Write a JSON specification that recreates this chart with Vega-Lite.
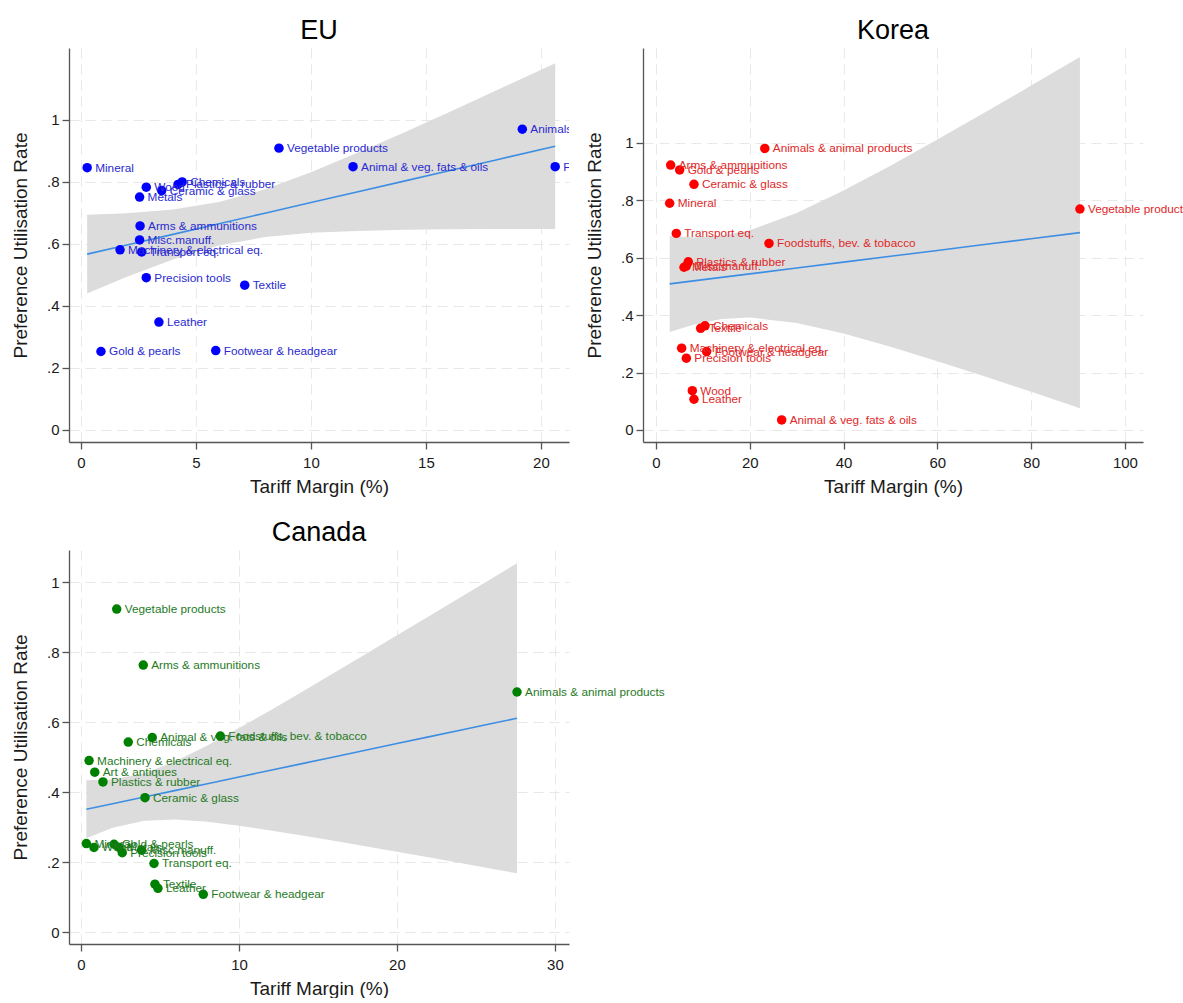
{
  "$schema": "https://vega.github.io/schema/vega-lite/v6.json",
  "padding": {"left": 11, "top": 17, "right": 0, "bottom": 0},
  "background": "white",
  "config": {
    "view": {"stroke": null},
    "font": "Liberation Sans",
    "axis": {
      "labelFont": "Liberation Sans", "titleFont": "Liberation Sans",
      "labelFontSize": 15, "titleFontSize": 19, "titleFontWeight": "normal",
      "labelColor": "#1a1a1a", "titleColor": "#1a1a1a",
      "domainColor": "#555555", "tickColor": "#555555", "domainWidth": 1.3, "tickWidth": 1.3, "tickSize": 7,
      "gridColor": "#e8e8e8", "gridDash": [10, 6], "gridWidth": 1,
      "labelFlush": false, "labelOverlap": false
    },
    "axisX": {"labelPadding": 6, "titlePadding": 7},
    "axisY": {"labelPadding": 3, "titlePadding": 16},
    "title": {"font": "Liberation Sans", "fontSize": 27, "fontWeight": "normal", "color": "#000000", "anchor": "middle", "frame": "group", "baseline": "alphabetic", "offset": 3}
  },
  "datasets": {
    "eu": [
      {"sector": "Mineral", "tm": 0.27, "pur": 0.846},
      {"sector": "Vegetable products", "tm": 8.61, "pur": 0.909},
      {"sector": "Wood", "tm": 2.84, "pur": 0.783},
      {"sector": "Chemicals", "tm": 4.40, "pur": 0.800},
      {"sector": "Plastics & rubber", "tm": 4.22, "pur": 0.792},
      {"sector": "Ceramic & glass", "tm": 3.51, "pur": 0.772},
      {"sector": "Metals", "tm": 2.55, "pur": 0.751},
      {"sector": "Arms & ammunitions", "tm": 2.57, "pur": 0.658},
      {"sector": "Misc.manuff.", "tm": 2.55, "pur": 0.613},
      {"sector": "Machinery & electrical eq.", "tm": 1.70, "pur": 0.581},
      {"sector": "Transport eq.", "tm": 2.64, "pur": 0.574},
      {"sector": "Precision tools", "tm": 2.84, "pur": 0.491},
      {"sector": "Textile", "tm": 7.12, "pur": 0.467},
      {"sector": "Leather", "tm": 3.39, "pur": 0.348},
      {"sector": "Gold & pearls", "tm": 0.87, "pur": 0.253},
      {"sector": "Footwear & headgear", "tm": 5.86, "pur": 0.256},
      {"sector": "Animals & animal products", "tm": 19.19, "pur": 0.970},
      {"sector": "Animal & veg. fats & oils", "tm": 11.83, "pur": 0.849},
      {"sector": "Foodstuffs, bev. & tobacco", "tm": 20.62, "pur": 0.849}
    ],
    "eu_band": [
      {"tm": 0.27, "lo": 0.440, "hi": 0.694, "fit": 0.567},
      {"tm": 2, "lo": 0.494, "hi": 0.699, "fit": 0.5966},
      {"tm": 4, "lo": 0.550, "hi": 0.711, "fit": 0.6308},
      {"tm": 6, "lo": 0.595, "hi": 0.735, "fit": 0.665},
      {"tm": 8, "lo": 0.622, "hi": 0.776, "fit": 0.6992},
      {"tm": 10, "lo": 0.636, "hi": 0.831, "fit": 0.7334},
      {"tm": 12, "lo": 0.642, "hi": 0.893, "fit": 0.7676},
      {"tm": 14, "lo": 0.646, "hi": 0.958, "fit": 0.8018},
      {"tm": 16, "lo": 0.647, "hi": 1.025, "fit": 0.836},
      {"tm": 18, "lo": 0.648, "hi": 1.093, "fit": 0.8702},
      {"tm": 20.62, "lo": 0.648, "hi": 1.183, "fit": 0.915}
    ],
    "korea": [
      {"sector": "Animals & animal products", "tm": 23.2, "pur": 0.981},
      {"sector": "Arms & ammunitions", "tm": 3.13, "pur": 0.923},
      {"sector": "Gold & pearls", "tm": 5.05, "pur": 0.906},
      {"sector": "Ceramic & glass", "tm": 8.1, "pur": 0.856},
      {"sector": "Mineral", "tm": 2.92, "pur": 0.790},
      {"sector": "Transport eq.", "tm": 4.33, "pur": 0.685},
      {"sector": "Foodstuffs, bev. & tobacco", "tm": 24.1, "pur": 0.650},
      {"sector": "Plastics & rubber", "tm": 6.89, "pur": 0.586},
      {"sector": "Metals", "tm": 5.97, "pur": 0.567},
      {"sector": "Misc.manuff.", "tm": 6.46, "pur": 0.571},
      {"sector": "Chemicals", "tm": 10.45, "pur": 0.363},
      {"sector": "Textile", "tm": 9.52, "pur": 0.354},
      {"sector": "Machinery & electrical eq.", "tm": 5.47, "pur": 0.285},
      {"sector": "Footwear & headgear", "tm": 10.8, "pur": 0.273},
      {"sector": "Precision tools", "tm": 6.47, "pur": 0.250},
      {"sector": "Wood", "tm": 7.75, "pur": 0.137},
      {"sector": "Leather", "tm": 8.1, "pur": 0.107},
      {"sector": "Animal & veg. fats & oils", "tm": 26.8, "pur": 0.035},
      {"sector": "Vegetable products", "tm": 90.4, "pur": 0.770}
    ],
    "korea_band": [
      {"tm": 2.92, "lo": 0.341, "hi": 0.677, "fit": 0.509},
      {"tm": 8, "lo": 0.367, "hi": 0.671, "fit": 0.5194},
      {"tm": 14, "lo": 0.387, "hi": 0.677, "fit": 0.5318},
      {"tm": 20, "lo": 0.392, "hi": 0.696, "fit": 0.5439},
      {"tm": 30, "lo": 0.373, "hi": 0.756, "fit": 0.5643},
      {"tm": 40, "lo": 0.336, "hi": 0.834, "fit": 0.5848},
      {"tm": 50, "lo": 0.290, "hi": 0.921, "fit": 0.6052},
      {"tm": 60, "lo": 0.239, "hi": 1.012, "fit": 0.6256},
      {"tm": 70, "lo": 0.187, "hi": 1.105, "fit": 0.646},
      {"tm": 80, "lo": 0.133, "hi": 1.200, "fit": 0.6665},
      {"tm": 90.4, "lo": 0.076, "hi": 1.300, "fit": 0.6876}
    ],
    "canada": [
      {"sector": "Vegetable products", "tm": 2.26, "pur": 0.923},
      {"sector": "Arms & ammunitions", "tm": 3.94, "pur": 0.763},
      {"sector": "Animal & veg. fats & oils", "tm": 4.51, "pur": 0.556},
      {"sector": "Foodstuffs, bev. & tobacco", "tm": 8.82, "pur": 0.560},
      {"sector": "Chemicals", "tm": 2.99, "pur": 0.543},
      {"sector": "Machinery & electrical eq.", "tm": 0.51, "pur": 0.490},
      {"sector": "Art & antiques", "tm": 0.87, "pur": 0.457},
      {"sector": "Plastics & rubber", "tm": 1.39, "pur": 0.429},
      {"sector": "Ceramic & glass", "tm": 4.05, "pur": 0.384},
      {"sector": "Animals & animal products", "tm": 27.6, "pur": 0.686},
      {"sector": "Mineral", "tm": 0.34, "pur": 0.253},
      {"sector": "Wood", "tm": 0.82, "pur": 0.242},
      {"sector": "Gold & pearls", "tm": 2.09, "pur": 0.251},
      {"sector": "Metals", "tm": 2.41, "pur": 0.242},
      {"sector": "Precision tools", "tm": 2.61, "pur": 0.227},
      {"sector": "Misc.manuff.", "tm": 3.84, "pur": 0.234},
      {"sector": "Transport eq.", "tm": 4.62, "pur": 0.196},
      {"sector": "Textile", "tm": 4.68, "pur": 0.137},
      {"sector": "Leather", "tm": 4.87, "pur": 0.125},
      {"sector": "Footwear & headgear", "tm": 7.74, "pur": 0.108}
    ],
    "canada_band": [
      {"tm": 0.34, "lo": 0.268, "hi": 0.434, "fit": 0.351},
      {"tm": 2, "lo": 0.298, "hi": 0.436, "fit": 0.3668},
      {"tm": 4, "lo": 0.318, "hi": 0.454, "fit": 0.3859},
      {"tm": 6, "lo": 0.3215, "hi": 0.4885, "fit": 0.405},
      {"tm": 8, "lo": 0.315, "hi": 0.533, "fit": 0.424},
      {"tm": 10, "lo": 0.304, "hi": 0.583, "fit": 0.4432},
      {"tm": 12, "lo": 0.2905, "hi": 0.634, "fit": 0.4623},
      {"tm": 14, "lo": 0.276, "hi": 0.687, "fit": 0.4814},
      {"tm": 16, "lo": 0.261, "hi": 0.740, "fit": 0.5005},
      {"tm": 18, "lo": 0.2455, "hi": 0.794, "fit": 0.5196},
      {"tm": 20, "lo": 0.2296, "hi": 0.848, "fit": 0.5386},
      {"tm": 22, "lo": 0.2136, "hi": 0.902, "fit": 0.5577},
      {"tm": 24, "lo": 0.1974, "hi": 0.956, "fit": 0.5768},
      {"tm": 26, "lo": 0.181, "hi": 1.0105, "fit": 0.5958},
      {"tm": 27.6, "lo": 0.168, "hi": 1.054, "fit": 0.611}
    ]
  },
  "columns": 2,
  "bounds": "flush",
  "spacing": {"column": 74, "row": 108},
  "concat": [
    {
      "title": "EU",
      "width": 500,
      "height": 394,
      "encoding": {
        "x": {"field": "tm", "type": "quantitative", "title": "Tariff Margin (%)",
              "scale": {"domain": [-0.52, 21.22], "nice": false, "zero": false},
              "axis": {"values": [0, 5, 10, 15, 20], "grid": true}}
      },
      "layer": [
        {"data": {"name": "eu_band"}, "mark": {"type": "area", "color": "#dcdcdc", "opacity": 1},
         "encoding": {
           "y": {"field": "lo", "type": "quantitative", "title": "Preference Utilisation Rate",
                 "scale": {"domain": [-0.039, 1.232], "nice": false, "zero": false},
                 "axis": {"values": [0, 0.2, 0.4, 0.6, 0.8, 1], "grid": true,
                          "labelExpr": "datum.value == 0 ? '0' : datum.value == 1 ? '1' : substring(format(datum.value, '.1f'), 1)"}},
           "y2": {"field": "hi"}}},
        {"data": {"name": "eu_band"}, "mark": {"type": "line", "color": "#3d8ee3", "strokeWidth": 1.6},
         "encoding": {"y": {"field": "fit", "type": "quantitative", "title": "Preference Utilisation Rate",
                 "scale": {"domain": [-0.039, 1.232], "nice": false, "zero": false}}}},
        {"data": {"name": "eu"}, "mark": {"type": "circle", "size": 90, "opacity": 1, "color": "#0000ff"},
         "encoding": {"y": {"field": "pur", "type": "quantitative", "title": "Preference Utilisation Rate",
                 "scale": {"domain": [-0.039, 1.232], "nice": false, "zero": false}}}},
        {"data": {"name": "eu"}, "mark": {"type": "text", "align": "left", "baseline": "middle", "dx": 8, "fontSize": 11.8, "font": "Liberation Sans", "color": "#2a2ad0", "clip": true},
         "encoding": {"y": {"field": "pur", "type": "quantitative", "title": "Preference Utilisation Rate",
                 "scale": {"domain": [-0.039, 1.232], "nice": false, "zero": false}},
                 "text": {"field": "sector"}}}
      ]
    },
    {
      "title": "Korea",
      "width": 500,
      "height": 394,
      "encoding": {
        "x": {"field": "tm", "type": "quantitative", "title": "Tariff Margin (%)",
              "scale": {"domain": [-2.77, 103.85], "nice": false, "zero": false},
              "axis": {"values": [0, 20, 40, 60, 80, 100], "grid": true}}
      },
      "layer": [
        {"data": {"name": "korea_band"}, "mark": {"type": "area", "color": "#dcdcdc", "opacity": 1},
         "encoding": {
           "y": {"field": "lo", "type": "quantitative", "title": "Preference Utilisation Rate",
                 "scale": {"domain": [-0.042, 1.331], "nice": false, "zero": false},
                 "axis": {"values": [0, 0.2, 0.4, 0.6, 0.8, 1], "grid": true,
                          "labelExpr": "datum.value == 0 ? '0' : datum.value == 1 ? '1' : substring(format(datum.value, '.1f'), 1)"}},
           "y2": {"field": "hi"}}},
        {"data": {"name": "korea_band"}, "mark": {"type": "line", "color": "#3d8ee3", "strokeWidth": 1.6},
         "encoding": {"y": {"field": "fit", "type": "quantitative", "title": "Preference Utilisation Rate",
                 "scale": {"domain": [-0.042, 1.331], "nice": false, "zero": false}}}},
        {"data": {"name": "korea"}, "mark": {"type": "circle", "size": 90, "opacity": 1, "color": "#ff0000"},
         "encoding": {"y": {"field": "pur", "type": "quantitative", "title": "Preference Utilisation Rate",
                 "scale": {"domain": [-0.042, 1.331], "nice": false, "zero": false}}}},
        {"data": {"name": "korea"}, "mark": {"type": "text", "align": "left", "baseline": "middle", "dx": 8, "fontSize": 11.8, "font": "Liberation Sans", "color": "#e02828"},
         "encoding": {"y": {"field": "pur", "type": "quantitative", "title": "Preference Utilisation Rate",
                 "scale": {"domain": [-0.042, 1.331], "nice": false, "zero": false}},
                 "text": {"field": "sector"}}}
      ]
    },
    {
      "title": "Canada",
      "width": 500,
      "height": 394,
      "encoding": {
        "x": {"field": "tm", "type": "quantitative", "title": "Tariff Margin (%)",
              "scale": {"domain": [-0.76, 30.89], "nice": false, "zero": false},
              "axis": {"values": [0, 10, 20, 30], "grid": true}}
      },
      "layer": [
        {"data": {"name": "canada_band"}, "mark": {"type": "area", "color": "#dcdcdc", "opacity": 1},
         "encoding": {
           "y": {"field": "lo", "type": "quantitative", "title": "Preference Utilisation Rate",
                 "scale": {"domain": [-0.034, 1.0917], "nice": false, "zero": false},
                 "axis": {"values": [0, 0.2, 0.4, 0.6, 0.8, 1], "grid": true,
                          "labelExpr": "datum.value == 0 ? '0' : datum.value == 1 ? '1' : substring(format(datum.value, '.1f'), 1)"}},
           "y2": {"field": "hi"}}},
        {"data": {"name": "canada_band"}, "mark": {"type": "line", "color": "#3d8ee3", "strokeWidth": 1.6},
         "encoding": {"y": {"field": "fit", "type": "quantitative", "title": "Preference Utilisation Rate",
                 "scale": {"domain": [-0.034, 1.0917], "nice": false, "zero": false}}}},
        {"data": {"name": "canada"}, "mark": {"type": "circle", "size": 90, "opacity": 1, "color": "#008000"},
         "encoding": {"y": {"field": "pur", "type": "quantitative", "title": "Preference Utilisation Rate",
                 "scale": {"domain": [-0.034, 1.0917], "nice": false, "zero": false}}}},
        {"data": {"name": "canada"}, "mark": {"type": "text", "align": "left", "baseline": "middle", "dx": 8, "fontSize": 11.8, "font": "Liberation Sans", "color": "#1f7a1f"},
         "encoding": {"y": {"field": "pur", "type": "quantitative", "title": "Preference Utilisation Rate",
                 "scale": {"domain": [-0.034, 1.0917], "nice": false, "zero": false}},
                 "text": {"field": "sector"}}}
      ]
    }
  ]
}
